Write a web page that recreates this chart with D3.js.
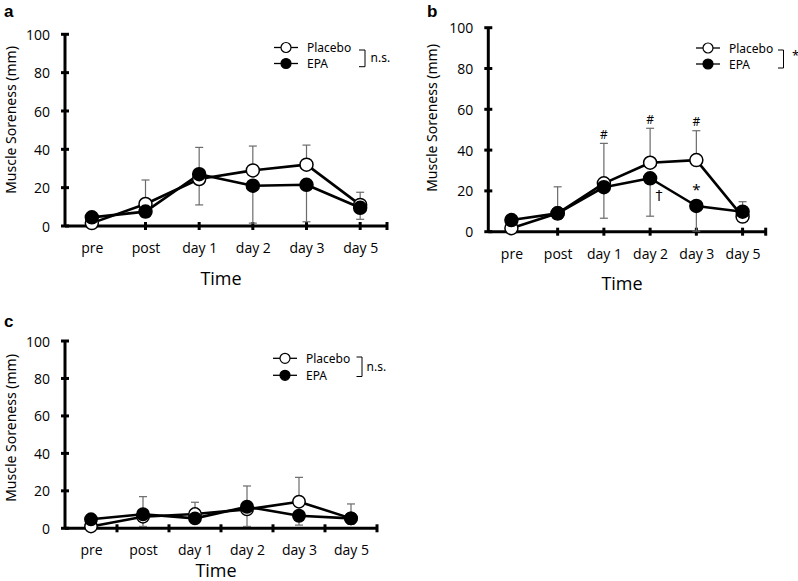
<!DOCTYPE html>
<html>
<head>
<meta charset="utf-8">
<script src="https://cdn.jsdelivr.net/npm/d3@7"></script>
<style>
  html, body { margin: 0; padding: 0; background: #fff; }
  svg { display: block; }
</style>
</head>
<body>
<svg id="chart" width="798" height="581"></svg>
<script>
// ---------------- DATA ----------------
const categories = ["pre", "post", "day 1", "day 2", "day 3", "day 5"];
const yTicks = [0, 20, 40, 60, 80, 100];
const seriesNames = ["Placebo", "EPA"];

// Panel a
const placeboA = [1.5, 11.5, 24.5, 29, 32, 11];
const placeboA_sd = [0, 12.5, 16.5, 12.7, 10.2, 6.6];
const epaA = [4.5, 7.5, 27, 21, 21.5, 9.5];
const epaA_sd = [0, 3, 16, 19.5, 19.3, 6];

// Panel b
const placeboB = [1.7, 9, 23.7, 33.8, 35.1, 7.4];
const placeboB_sd = [0, 13, 19.6, 16.9, 14.4, 7.3];
const epaB = [5.7, 9, 21.8, 26.2, 12.6, 9.8];
const epaB_sd = [0, 3, 15.2, 18.6, 12.3, 3];

// Panel c
const placeboC = [1, 6.2, 7.6, 10.1, 14.2, 5.3];
const placeboC_sd = [0, 10.7, 6.3, 12.5, 13, 7.7];
const epaC = [4.8, 7.5, 5.3, 11.5, 6.7, 5.3];
const epaC_sd = [0, 6.5, 2, 10.5, 5, 3];

// significance labels
const sigA = "n.s.";
const sigB = "*";
const sigC = "n.s.";
const annotB = [
  { cat: "day 1", text: "#", kind: "hash" },
  { cat: "day 2", text: "#", kind: "hash" },
  { cat: "day 3", text: "#", kind: "hash" },
  { cat: "day 3", text: "*", kind: "star" },
  { cat: "day 2", text: "\u2020", kind: "dagger" }
];

// ---------------- LAYOUT ----------------
const panels = [
  { label: "a", x0: 65, x1: 387, yTop: 34.3, yBot: 226, tickMode: "points",
    placebo: placeboA, placeboSd: placeboA_sd, epa: epaA, epaSd: epaA_sd, sig: sigA,
    labelPos: [4, 17], titleX: 10, titleY: 120, xLabelY: 248, timeY: 285,
    legX: 286, legY: [47.5, 63.5], brX: [359, 365], brY: [50, 66.7], sigX: 370.5, sigY: 57.3, sigSize: 12, r: 6.5 },
  { label: "b", x0: 488.3, x1: 765.7, yTop: 27.7, yBot: 231.7, tickMode: "points",
    placebo: placeboB, placeboSd: placeboB_sd, epa: epaB, epaSd: epaB_sd, sig: sigB,
    labelPos: [427, 17], titleX: 431, titleY: 118, xLabelY: 254, timeY: 290,
    legX: 708, legY: [48, 64], brX: [778, 783.5], brY: [50, 68], sigX: 792, sigY: 55, sigSize: 13, r: 6.5,
    annot: annotB },
  { label: "c", x0: 65, x1: 377, yTop: 341, yBot: 528.3, tickMode: "bands",
    placebo: placeboC, placeboSd: placeboC_sd, epa: epaC, epaSd: epaC_sd, sig: sigC,
    labelPos: [4, 327], titleX: 10, titleY: 428, xLabelY: 550, timeY: 577,
    legX: 285, legY: [358.3, 375.3], brX: [356.5, 362], brY: [357, 376.5], sigX: 366.5, sigY: 366, sigSize: 12, r: 6.2 }
];

const svg = d3.select("#chart");
const numFont = "'Open Sans', 'Noto Sans', sans-serif";
const legFont = "'Noto Sans', 'Liberation Sans', sans-serif";

panels.forEach(p => {
  const g = svg.append("g");
  const x = d3.scalePoint().domain(categories).range([p.x0, p.x1]).padding(0.5);
  const y = d3.scaleLinear().domain([0, 100]).range([p.yBot, p.yTop]);

  // panel label
  g.append("text").attr("x", p.labelPos[0]).attr("y", p.labelPos[1])
    .attr("font-family", "'Liberation Sans', Arial, sans-serif").attr("font-weight", "bold")
    .attr("font-size", 17).text(p.label);

  // y axis
  const yAxis = d3.axisLeft(y).tickValues(yTicks).tickSize(0).tickPadding(15);
  const yg = g.append("g").attr("transform", `translate(${p.x0},0)`).call(yAxis);
  yg.select(".domain").remove();
  yg.selectAll("text").attr("font-family", numFont).attr("font-size", 14).attr("fill", "#000")
    .attr("dy", "0.36em");
  g.append("line").attr("x1", p.x0).attr("x2", p.x0).attr("y1", y(100)).attr("y2", y(0))
    .attr("stroke", "#000").attr("stroke-width", 3);
  g.selectAll(".ytk").data(yTicks).join("line")
    .attr("x1", p.x0 - 4).attr("x2", p.x0 + 4)
    .attr("y1", d => y(d)).attr("y2", d => y(d))
    .attr("stroke", "#000").attr("stroke-width", 3);

  // x axis
  const xAxis = d3.axisBottom(x).tickSize(0).tickPadding(0);
  const xg = g.append("g").attr("transform", `translate(0,${p.xLabelY})`).call(xAxis);
  xg.select(".domain").remove();
  xg.selectAll("text").attr("font-family", numFont).attr("font-size", 14).attr("fill", "#000")
    .attr("dy", "0.35em");
  g.append("line").attr("x1", p.x0).attr("x2", p.x1).attr("y1", y(0)).attr("y2", y(0))
    .attr("stroke", "#000").attr("stroke-width", 3);
  let tickXs;
  if (p.tickMode === "points") {
    tickXs = categories.slice(1).map(c => x(c));
  } else {
    tickXs = categories.slice(0, -1).map((c, i) => (x(c) + x(categories[i + 1])) / 2);
  }
  tickXs.push(p.x1);
  g.selectAll(".xtk").data(tickXs).join("line")
    .attr("x1", d => d).attr("x2", d => d)
    .attr("y1", y(0) - 4).attr("y2", y(0) + 4)
    .attr("stroke", "#000").attr("stroke-width", 3);

  // axis titles
  g.append("text").attr("transform", `translate(${p.titleX},${p.titleY}) rotate(-90)`)
    .attr("text-anchor", "middle").attr("dominant-baseline", "central")
    .attr("font-family", legFont).attr("font-size", 14).text("Muscle Soreness (mm)");
  g.append("text").attr("x", (p.x0 + p.x1) / 2 - 5).attr("y", p.timeY)
    .attr("text-anchor", "middle")
    .attr("font-family", numFont).attr("font-size", 18).text("Time");

  const pl = categories.map((c, i) => ({ c, v: p.placebo[i], sd: p.placeboSd[i] }));
  const ep = categories.map((c, i) => ({ c, v: p.epa[i], sd: p.epaSd[i] }));

  // error bars: placebo upward, EPA downward
  const eb = g.append("g").attr("stroke", "#6b6b6b").attr("stroke-width", 1.2);
  pl.filter(d => d.sd > 0).forEach(d => {
    eb.append("line").attr("x1", x(d.c)).attr("x2", x(d.c)).attr("y1", y(d.v)).attr("y2", y(d.v + d.sd));
    eb.append("line").attr("x1", x(d.c) - 4).attr("x2", x(d.c) + 4).attr("y1", y(d.v + d.sd)).attr("y2", y(d.v + d.sd));
  });
  ep.filter(d => d.sd > 0).forEach(d => {
    eb.append("line").attr("x1", x(d.c)).attr("x2", x(d.c)).attr("y1", y(d.v)).attr("y2", y(d.v - d.sd));
    eb.append("line").attr("x1", x(d.c) - 4).attr("x2", x(d.c) + 4).attr("y1", y(d.v - d.sd)).attr("y2", y(d.v - d.sd));
  });

  const line = d3.line().x(d => x(d.c)).y(d => y(d.v));
  [pl, ep].forEach(s => {
    g.append("path").datum(s).attr("d", line).attr("fill", "none")
      .attr("stroke", "#000").attr("stroke-width", 2.6).attr("stroke-linejoin", "round");
  });
  g.selectAll(".pc").data(pl).join("circle")
    .attr("cx", d => x(d.c)).attr("cy", d => y(d.v)).attr("r", p.r)
    .attr("fill", "#fff").attr("stroke", "#000").attr("stroke-width", 1.5);
  g.selectAll(".ec").data(ep).join("circle")
    .attr("cx", d => x(d.c)).attr("cy", d => y(d.v)).attr("r", p.r)
    .attr("fill", "#000").attr("stroke", "#000").attr("stroke-width", 1.5);

  // annotations
  if (p.annot) {
    p.annot.forEach(a => {
      const i = categories.indexOf(a.cat);
      const cx = x(a.cat);
      let ty, tx = cx, fs = 12, ff = legFont;
      if (a.kind === "hash") { ty = y(p.placebo[i] + p.placeboSd[i]) - 9; fs = 12; }
      else if (a.kind === "star") { ty = y(p.epa[i]) - 17; fs = 15; }
      else { tx = cx + 9; ty = y(p.epa[i] - p.epaSd[i] / 2) - 2; fs = 14; ff = "'DejaVu Sans', sans-serif"; }
      g.append("text").attr("x", tx).attr("y", ty).attr("text-anchor", "middle")
        .attr("dominant-baseline", "central").attr("font-family", ff)
        .attr("font-size", fs).attr("fill", "#000").style("fill", "#000").text(a.text);
    });
  }

  // legend
  seriesNames.forEach((name, k) => {
    const ly = p.legY[k];
    g.append("line").attr("x1", p.legX - 12).attr("x2", p.legX + 12).attr("y1", ly).attr("y2", ly)
      .attr("stroke", "#000").attr("stroke-width", 1.3);
    g.append("circle").attr("cx", p.legX).attr("cy", ly).attr("r", 5)
      .attr("fill", k === 0 ? "#fff" : "#000").attr("stroke", "#000").attr("stroke-width", 1.2);
    g.append("text").attr("x", p.legX + 21).attr("y", ly).attr("dominant-baseline", "central")
      .attr("font-family", legFont).attr("font-size", 12).text(name);
  });
  g.append("path")
    .attr("d", `M${p.brX[0]},${p.brY[0]}H${p.brX[1]}V${p.brY[1]}H${p.brX[0]}`)
    .attr("fill", "none").attr("stroke", "#000").attr("stroke-width", 1);
  g.append("text").attr("x", p.sigX).attr("y", p.sigY).attr("dominant-baseline", "central")
    .attr("font-family", legFont).attr("font-size", p.sigSize).text(p.sig);
});
</script>
</body>
</html>
